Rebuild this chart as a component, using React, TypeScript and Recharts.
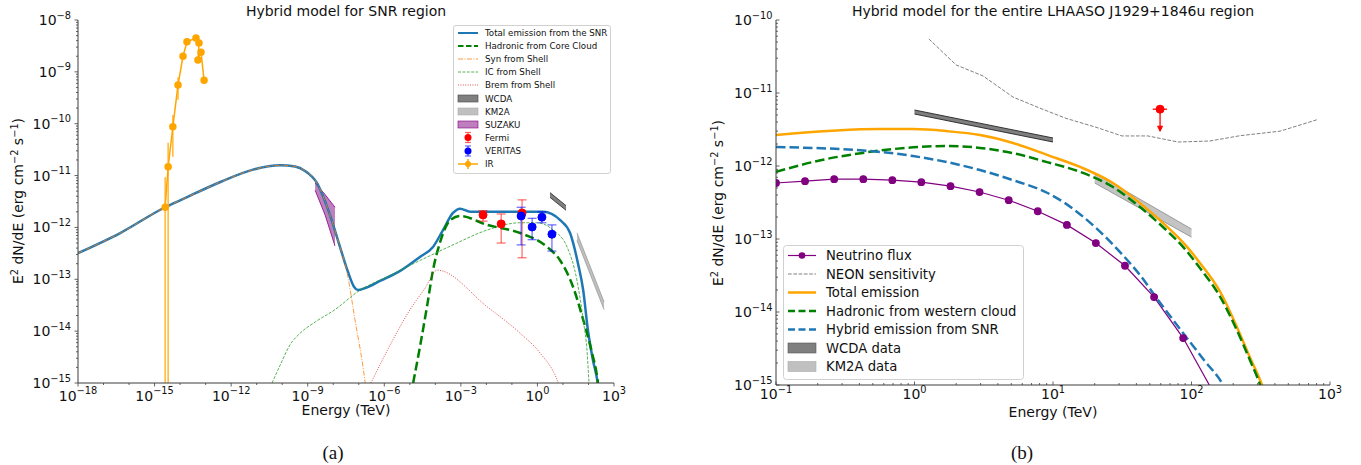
import React from "react";
import { ComposedChart, Line, Scatter, Area, XAxis, YAxis, ErrorBar } from "recharts";

type Pt = [number, number]; // [E (TeV), E^2 dN/dE (erg cm^-2 s^-1)]
type ErrPt = [number, number, number, number]; // [E, F, F low, F high]
type BandPt = [number, number, number]; // [E, F low, F high]

// ---------- panel (a): SNR region ----------
const SNR_TOTAL: Pt[] = [
  [1e-18, 3.2e-13], [4.5e-17, 7.8e-13], [2.6e-15, 2.45e-12], [1.1e-14, 3.4e-12],
  [4e-13, 7.6e-12], [7.2e-12, 1.3e-11], [8.3e-11, 1.58e-11], [3.2e-10, 1.5e-11],
  [7.9e-10, 1.23e-11], [2.3e-9, 7.2e-12], [7.4e-9, 1.74e-12], [1.9e-8, 4e-13],
  [3.8e-8, 1.38e-13], [6.6e-8, 7.1e-14], [9.3e-8, 6.2e-14], [1.8e-7, 6.8e-14],
  [6.8e-7, 9.3e-14], [4.2e-6, 1.45e-13], [2.5e-5, 2.7e-13], [8.1e-5, 4.2e-13],
  [2e-4, 8.9e-13], [4.9e-4, 1.9e-12], [9.3e-4, 2.3e-12], [2.3e-3, 2.0e-12],
  [0.1, 2.0e-12], [1.66, 2.0e-12], [7.8, 1.38e-12], [19, 7.8e-13], [39, 2.0e-13],
  [62, 6.2e-14], [95, 1.05e-14], [150, 2.75e-15], [220, 1.15e-15], [263, 6.3e-16],
];
const CORE_HADRONIC: Pt[] = [
  [1.35e-5, 1e-15], [2.5e-5, 5e-15], [4.7e-5, 2.95e-14], [8.1e-5, 1.5e-13],
  [1.5e-4, 5e-13], [3.8e-4, 1.38e-12], [9.3e-4, 1.66e-12], [1.07e-2, 1.12e-12],
  [0.21, 7.8e-13], [2.4, 4.2e-13], [7.8, 2.3e-13], [25, 7.1e-14], [62, 1.66e-14],
  [138, 3.8e-15], [219, 1.3e-15], [263, 6.3e-16],
];
const SHELL_SYN: Pt[] = [
  [1e-18, 3.2e-13], [4.5e-17, 7.8e-13], [2.6e-15, 2.45e-12], [1.1e-14, 3.4e-12],
  [4e-13, 7.6e-12], [7.2e-12, 1.3e-11], [8.3e-11, 1.58e-11], [3.2e-10, 1.5e-11],
  [7.9e-10, 1.23e-11], [2.3e-9, 7.2e-12], [7.4e-9, 1.74e-12], [1.9e-8, 4e-13],
  [3.2e-8, 1.66e-13], [7.1e-8, 1.66e-14], [1.78e-7, 1e-15], [2.2e-7, 4e-16],
];
const SHELL_IC: Pt[] = [
  [4e-11, 1e-15], [8.3e-11, 2.2e-15], [2e-10, 5.4e-15], [5e-10, 9.1e-15],
  [1.95e-9, 1.5e-14], [1.17e-8, 2.6e-14], [9.3e-8, 5.8e-14], [1.7e-6, 1.2e-13],
  [2.5e-5, 2.3e-13], [4.9e-4, 4.6e-13], [1.07e-2, 8.9e-13], [0.21, 1.23e-12],
  [0.98, 1.23e-12], [4.1, 8.9e-13], [14.5, 4.2e-13], [35, 9.8e-14], [62, 1.66e-14],
  [89, 3.8e-15], [105, 1e-15], [115, 5e-16],
];
const SHELL_BREM: Pt[] = [
  [3e-7, 1e-15], [1.7e-6, 5.4e-15], [1.02e-5, 2.6e-14], [4e-5, 6.8e-14],
  [1.17e-4, 1.5e-13], [1.07e-2, 2.95e-14], [0.21, 9.1e-15], [1.26, 3.8e-15],
  [5.9, 1.15e-15], [7.1, 9e-16],
];
const IR_POINTS: ErrPt[] = [
  [2.6e-15, 2.45e-12, 1e-15, 9.3e-12],
  [3.4e-15, 1.48e-11, 1e-15, 4.3e-11],
  [5.2e-15, 8.7e-11, 2.3e-11, 1.48e-10],
  [8.3e-15, 5.6e-10, 2.9e-10, 7.9e-10],
  [1.3e-14, 2.0e-9, 1.7e-9, 2.3e-9],
  [1.86e-14, 3.8e-9, 3.5e-9, 4.1e-9],
  [4.2e-14, 4.5e-9, 4.2e-9, 4.8e-9],
  [5.5e-14, 3.6e-9, 3.4e-9, 3.8e-9],
  [5e-14, 1.7e-9, 1.6e-9, 1.8e-9],
  [6.6e-14, 2.4e-9, 2.2e-9, 2.6e-9],
  [8.7e-14, 6.9e-10, 6.5e-10, 7.3e-10],
];
const FERMI_POINTS: ErrPt[] = [
  [7.4e-3, 1.74e-12, 1.32e-12, 2.1e-12],
  [0.038, 1.17e-12, 5e-13, 1.82e-12],
  [0.25, 1.9e-12, 2.6e-13, 3.4e-12],
];
const VERITAS_POINTS: ErrPt[] = [
  [0.23, 1.66e-12, 4.6e-13, 2.45e-12],
  [0.62, 1.02e-12, 5.8e-13, 1.5e-12],
  [1.5, 1.58e-12, 1.23e-12, 2.0e-12],
  [3.7, 7.4e-13, 3.5e-13, 1.12e-12],
];
const SUZAKU_BAND: BandPt[] = [
  [1.95e-9, 5.2e-12, 7.2e-12],
  [4.8e-9, 1.74e-12, 4.3e-12],
  [1.17e-8, 4.4e-13, 2.45e-12],
];
const WCDA_BAND_A: BandPt[] = [
  [3.1, 3.8e-12, 4.7e-12],
  [13.2, 2.14e-12, 2.63e-12],
];
const KM2A_BAND_A: BandPt[] = [
  [35.5, 5.6e-13, 7.85e-13],
  [407, 2.6e-14, 3.67e-14],
];

// ---------- panel (b): LHAASO J1929+1846u ----------
const NEUTRINO: Pt[] = [
  [0.1, 5.85e-13], [0.162, 6.2e-13], [0.263, 6.6e-13], [0.427, 6.6e-13],
  [0.692, 6.4e-13], [1.12, 6.0e-13], [1.82, 5.3e-13], [2.95, 4.4e-13],
  [4.79, 3.4e-13], [7.76, 2.4e-13], [12.6, 1.56e-13], [20.4, 8.8e-14],
  [33.1, 4.3e-14], [53.7, 1.6e-14], [87.1, 4.4e-15], [141, 8.5e-16],
];
const NEON_SENS: Pt[] = [
  [1.27, 5.5e-11], [2.0, 2.42e-11], [3.13, 1.71e-11], [5.14, 8.8e-12],
  [8.05, 6.2e-12], [12.4, 4.5e-12], [20.4, 3.4e-12], [31.5, 2.58e-12],
  [48.5, 2.58e-12], [80, 2.13e-12], [136, 2.2e-12], [224, 2.6e-12],
  [436, 3.0e-12], [805, 4.3e-12],
];
const TOTAL_EMISSION: Pt[] = [
  [0.1, 2.66e-12], [0.564, 3.2e-12], [0.975, 3.2e-12], [1.72, 3.0e-12],
  [2.97, 2.66e-12], [5.14, 2.07e-12], [9.06, 1.42e-12], [15.7, 9.7e-13],
  [27.1, 5.85e-13], [42.5, 3.1e-13], [62.2, 1.66e-13], [92.9, 7.8e-14],
  [115, 4.7e-14], [163, 1.82e-14], [213, 6.2e-15], [264, 2.4e-15],
  [323, 1e-15], [355, 6e-16],
];
const WESTERN_HADRONIC: Pt[] = [
  [0.1, 8.3e-13], [0.21, 1.2e-12], [0.41, 1.5e-12], [0.975, 1.8e-12],
  [1.72, 1.88e-12], [2.97, 1.77e-12], [5.14, 1.5e-12], [9.06, 1.13e-12],
  [15.7, 8.3e-13], [27.1, 5.15e-13], [42.5, 2.74e-13], [62.2, 1.46e-13],
  [86.9, 7.8e-14], [115, 4e-14], [163, 1.55e-14], [213, 5.6e-15],
  [264, 2.2e-15], [313, 1e-15], [355, 4.5e-16],
];
const SNR_HYBRID: Pt[] = [
  [0.1, 1.82e-12], [0.564, 1.56e-12], [0.975, 1.37e-12], [1.72, 1.13e-12],
  [2.97, 8.8e-13], [5.14, 6.4e-13], [9.06, 4.3e-13], [12.2, 3.1e-13],
  [20.4, 1.42e-13], [30.5, 6.6e-14], [42.5, 3.2e-14], [57.3, 1.46e-14],
  [86.9, 5.15e-15], [123, 2.2e-15], [169, 1e-15], [186, 7e-16],
];
const WCDA_BAND_B: BandPt[] = [
  [1, 5.15e-12, 5.85e-12],
  [10, 2.13e-12, 2.42e-12],
];
const KM2A_BAND_B: BandPt[] = [
  [20, 5.85e-13, 8e-13],
  [100, 1.06e-13, 1.37e-13],
];
// upper limit: [E, F, E low, E high, arrow tip F]
const UPPER_LIMIT = [59.3, 6.0e-12, 52.5, 66.5, 3.0e-12];

// ---------- axes ----------
const LEFT_X_TICKS = [
  1e-18, 1e-17, 1e-16, 1e-15, 1e-14, 1e-13, 1e-12, 1e-11, 1e-10, 1e-9, 1e-8,
  1e-7, 1e-6, 1e-5, 1e-4, 1e-3, 1e-2, 1e-1, 1, 10, 100, 1000,
];
const LEFT_X_LABELS = [-18, -15, -12, -9, -6, -3, 0, 3];
const LEFT_Y_DECADES = [-15, -8];
const LEFT_Y_LABELS = [-15, -14, -13, -12, -11, -10, -9, -8];
const RIGHT_X_DECADES = [-1, 3];
const RIGHT_X_LABELS = [-1, 0, 1, 2, 3];
const RIGHT_Y_DECADES = [-15, -10];
const RIGHT_Y_LABELS = [-15, -14, -13, -12, -11, -10];

const LEFT_LEGEND = [
  "Total emission from the SNR", "Hadronic from Core Cloud", "Syn from Shell",
  "IC from Shell", "Brem from Shell", "WCDA", "KM2A", "SUZAKU", "Fermi", "VERITAS", "IR",
];
const RIGHT_LEGEND = [
  "Neutrino flux", "NEON sensitivity", "Total emission", "Hadronic from western cloud",
  "Hybrid emission from SNR", "WCDA data", "KM2A data",
];

const FONT = "DejaVu Sans, sans-serif";
const AXIS = "#3c3c3c";
const C_BLUE = "#1f77b4";
const C_GREEN = "#008000";
const C_ORANGE = "#ff7f0e";
const C_IC = "#2ca02c";
const C_BREM = "#d62728";
const C_GOLD = "#ffa500";
const C_PURPLE = "#800080";

// minor ticks at 1..9 x 10^n over a range of decades
function logTicks([lo, hi]: number[]) {
  const out: number[] = [];
  for (let e = lo; e < hi; e++) for (let m = 1; m < 10; m++) out.push(m * Math.pow(10, e));
  out.push(Math.pow(10, hi));
  return out;
}

const line = (pts: Pt[]) => pts.map(([x, y]) => ({ x, y }));
const band = (pts: BandPt[]) => pts.map(([x, lo, hi]) => ({ x, r: [lo, hi] }));
const withErr = (pts: ErrPt[]) => pts.map(([x, y, lo, hi]) => ({ x, y, err: [y - lo, hi - y] }));

const exp10 = (v: number) => {
  const l = Math.log10(v);
  const e = Math.round(l);
  return { e, decade: Math.abs(l - e) < 1e-6 };
};
const supText = (e: number) => (e < 0 ? `\u2212${-e}` : `${e}`);

function xTick(labels: number[], inward: boolean, pad: number) {
  return (p: any) => {
    const { e, decade } = exp10(p.payload.value);
    const show = decade && labels.includes(e);
    const len = show ? 3.5 : 2;
    return (
      <g key={`xt${p.index}`}>
        <line x1={p.x} x2={p.x} y1={p.y} y2={inward ? p.y - len : p.y + len} stroke={AXIS} strokeWidth={0.8} />
        {show && (
          <text x={p.x} y={p.y + pad} textAnchor="middle" fontSize={14} fill="#111" fontFamily={FONT}>
            10<tspan dy={-6.5} fontSize={9.8}>{supText(e)}</tspan>
          </text>
        )}
      </g>
    );
  };
}

function yTick(labels: number[], inward: boolean, pad: number) {
  return (p: any) => {
    const { e, decade } = exp10(p.payload.value);
    const show = decade && labels.includes(e);
    const len = show ? 3.5 : 2;
    return (
      <g key={`yt${p.index}`}>
        <line x1={p.x} x2={inward ? p.x + len : p.x - len} y1={p.y} y2={p.y} stroke={AXIS} strokeWidth={0.8} />
        {show && (
          <text x={p.x - pad} y={p.y + 5} textAnchor="end" fontSize={14} fill="#111" fontFamily={FONT}>
            10<tspan dy={-6.5} fontSize={9.8}>{supText(e)}</tspan>
          </text>
        )}
      </g>
    );
  };
}

const circleShape = (r: number, color: string) => (p: any) => (
  <circle cx={p.cx} cy={p.cy} r={r} fill={color} stroke={color} />
);

function SnrPanel() {
  const xDom = [1e-18, 1e3];
  const yDom = [1e-15, 1e-8];
  return (
    <ComposedChart width={640} height={425} margin={{ top: 20, right: 26, bottom: 0, left: 0 }}>
      <XAxis dataKey="x" type="number" scale="log" domain={xDom} allowDataOverflow ticks={LEFT_X_TICKS}
        interval={0} tickSize={0} tickMargin={0} tickLine={false} height={42}
        axisLine={{ stroke: AXIS, strokeWidth: 1 }} tick={xTick(LEFT_X_LABELS, false, 17.5)} />
      <XAxis xAxisId="top" orientation="top" dataKey="x" type="number" scale="log" domain={xDom}
        allowDataOverflow height={0} tick={false} tickLine={false} axisLine={{ stroke: AXIS, strokeWidth: 1 }} />
      <YAxis dataKey="y" type="number" scale="log" domain={yDom} allowDataOverflow ticks={logTicks(LEFT_Y_DECADES)}
        interval={0} tickSize={0} tickMargin={0} tickLine={false} width={78}
        axisLine={{ stroke: AXIS, strokeWidth: 1 }} tick={yTick(LEFT_Y_LABELS, false, 7)} />
      <YAxis yAxisId="right" orientation="right" dataKey="y" type="number" scale="log" domain={yDom}
        allowDataOverflow width={0} tick={false} tickLine={false} axisLine={{ stroke: AXIS, strokeWidth: 1 }} />

      <Area data={band(SUZAKU_BAND)} dataKey="r" type="linear" fill="#bf7fbf" fillOpacity={1}
        stroke={C_PURPLE} strokeWidth={0.8} dot={false} activeDot={false} isAnimationActive={false} />
      <Line data={line(SNR_TOTAL)} dataKey="y" type="monotone" stroke={C_BLUE} strokeWidth={2.5}
        dot={false} activeDot={false} isAnimationActive={false} />
      <Line data={line(CORE_HADRONIC)} dataKey="y" type="monotone" stroke={C_GREEN} strokeWidth={2.5}
        strokeDasharray="9 4" dot={false} activeDot={false} isAnimationActive={false} />
      <Line data={line(SHELL_SYN)} dataKey="y" type="monotone" stroke={C_ORANGE} strokeWidth={0.8}
        strokeDasharray="5 1.5 1 1.5" dot={false} activeDot={false} isAnimationActive={false} />
      <Line data={line(SHELL_IC)} dataKey="y" type="monotone" stroke={C_IC} strokeWidth={0.8}
        strokeDasharray="3 1.4" dot={false} activeDot={false} isAnimationActive={false} />
      <Line data={line(SHELL_BREM)} dataKey="y" type="monotone" stroke={C_BREM} strokeWidth={0.8}
        strokeDasharray="1 1.4" dot={false} activeDot={false} isAnimationActive={false} />
      <Area data={band(WCDA_BAND_A)} dataKey="r" type="linear" fill="#808080" fillOpacity={1}
        stroke="#222" strokeWidth={0.8} dot={false} activeDot={false} isAnimationActive={false} />
      <Area data={band(KM2A_BAND_A)} dataKey="r" type="linear" fill="#c0c0c0" fillOpacity={1}
        stroke="#9a9a9a" strokeWidth={0.8} dot={false} activeDot={false} isAnimationActive={false} />

      <Line data={withErr(IR_POINTS)} dataKey="y" type="linear" stroke={C_GOLD} strokeWidth={1.5}
        dot={{ r: 3, fill: C_GOLD, stroke: C_GOLD }} activeDot={false} isAnimationActive={false}>
        <ErrorBar dataKey="err" direction="y" width={0} stroke={C_GOLD} strokeWidth={1.5} strokeOpacity={0.8} />
      </Line>
      <Scatter data={withErr(FERMI_POINTS)} dataKey="y" shape={circleShape(4, "red")} isAnimationActive={false}>
        <ErrorBar dataKey="err" direction="y" width={4.5} stroke="red" strokeWidth={1.2} strokeOpacity={0.6} />
      </Scatter>
      <Scatter data={withErr(VERITAS_POINTS)} dataKey="y" shape={circleShape(4, "blue")} isAnimationActive={false}>
        <ErrorBar dataKey="err" direction="y" width={4.5} stroke="blue" strokeWidth={1.2} strokeOpacity={0.6} />
      </Scatter>
    </ComposedChart>
  );
}

function LhaasoPanel() {
  const xDom = [0.1, 1000];
  const yDom = [1e-15, 1e-10];
  const [ulE, ulF, ulLo, ulHi, ulTip] = UPPER_LIMIT;
  return (
    <ComposedChart width={660} height={425} margin={{ top: 20, right: 30, bottom: 0, left: 0 }}>
      <XAxis dataKey="x" type="number" scale="log" domain={xDom} allowDataOverflow ticks={logTicks(RIGHT_X_DECADES)}
        interval={0} tickSize={0} tickMargin={0} tickLine={false} height={40}
        axisLine={{ stroke: AXIS, strokeWidth: 1 }} tick={xTick(RIGHT_X_LABELS, true, 14)} />
      <XAxis xAxisId="top" orientation="top" dataKey="x" type="number" scale="log" domain={xDom}
        allowDataOverflow height={0} tick={false} tickLine={false} axisLine={{ stroke: AXIS, strokeWidth: 1 }} />
      <YAxis dataKey="y" type="number" scale="log" domain={yDom} allowDataOverflow ticks={logTicks(RIGHT_Y_DECADES)}
        interval={0} tickSize={0} tickMargin={0} tickLine={false} width={76}
        axisLine={{ stroke: AXIS, strokeWidth: 1 }} tick={yTick(RIGHT_Y_LABELS, true, 3.5)} />
      <YAxis yAxisId="right" orientation="right" dataKey="y" type="number" scale="log" domain={yDom}
        allowDataOverflow width={0} tick={false} tickLine={false} axisLine={{ stroke: "#8a8a8a", strokeWidth: 1.5 }} />

      <Line data={line(NEUTRINO)} dataKey="y" type="linear" stroke={C_PURPLE} strokeWidth={1.2}
        dot={{ r: 3.3, fill: C_PURPLE, stroke: C_PURPLE }} activeDot={false} isAnimationActive={false} />
      <Line data={line(NEON_SENS)} dataKey="y" type="linear" stroke="#808080" strokeWidth={1}
        strokeDasharray="3.7 1.6" dot={false} activeDot={false} isAnimationActive={false} />
      <Line data={line(TOTAL_EMISSION)} dataKey="y" type="monotone" stroke={C_GOLD} strokeWidth={2.5}
        dot={false} activeDot={false} isAnimationActive={false} />
      <Line data={line(WESTERN_HADRONIC)} dataKey="y" type="monotone" stroke={C_GREEN} strokeWidth={2.5}
        strokeDasharray="9.5 4" dot={false} activeDot={false} isAnimationActive={false} />
      <Line data={line(SNR_HYBRID)} dataKey="y" type="monotone" stroke={C_BLUE} strokeWidth={2.5}
        strokeDasharray="9.5 4" dot={false} activeDot={false} isAnimationActive={false} />
      <Area data={band(WCDA_BAND_B)} dataKey="r" type="linear" fill="#7f7f7f" fillOpacity={1}
        stroke="#222" strokeWidth={0.9} dot={false} activeDot={false} isAnimationActive={false} />
      <Area data={band(KM2A_BAND_B)} dataKey="r" type="linear" fill="#b0b0b0" fillOpacity={0.75}
        stroke="#8a8a8a" strokeWidth={0.8} dot={false} activeDot={false} isAnimationActive={false} />

      <Line data={[{ x: ulE, y: ulF }, { x: ulE, y: ulTip }]} dataKey="y" type="linear" stroke="red"
        strokeWidth={1.3} activeDot={false} isAnimationActive={false}
        dot={(p: any) =>
          p.index === 1 ? (
            <path key="tip" d={`M${p.cx - 2.5},${p.cy - 5} L${p.cx},${p.cy} L${p.cx + 2.5},${p.cy - 5} Z`} fill="red" stroke="red" />
          ) : (
            <g key={`ul${p.index}`} />
          )
        } />
      <Scatter data={[{ x: ulE, y: ulF, xerr: [ulE - ulLo, ulHi - ulE] }]} dataKey="y"
        shape={circleShape(4, "red")} isAnimationActive={false}>
        <ErrorBar dataKey="xerr" direction="x" width={0} stroke="red" strokeWidth={1.3} />
      </Scatter>
    </ComposedChart>
  );
}

function LeftLegend() {
  const rows = [33, 46, 59, 72, 85, 98.5, 111.5, 124.5, 137.5, 151, 164];
  const x0 = 458, x1 = 478, xm = 468;
  const handle = (i: number, y: number) => {
    switch (i) {
      case 0: return <line x1={x0} x2={x1} y1={y} y2={y} stroke={C_BLUE} strokeWidth={2} />;
      case 1: return <line x1={x0} x2={x1} y1={y} y2={y} stroke={C_GREEN} strokeWidth={2} strokeDasharray="5.5 2.5" />;
      case 2: return <line x1={x0} x2={x1} y1={y} y2={y} stroke={C_ORANGE} strokeWidth={0.8} strokeDasharray="5 1.5 1 1.5" />;
      case 3: return <line x1={x0} x2={x1} y1={y} y2={y} stroke={C_IC} strokeWidth={0.8} strokeDasharray="3 1.4" />;
      case 4: return <line x1={x0} x2={x1} y1={y} y2={y} stroke={C_BREM} strokeWidth={0.8} strokeDasharray="1 1.4" />;
      case 5: return <rect x={x0} y={y - 3.5} width={20} height={7} fill="#808080" stroke="#444" strokeWidth={0.6} />;
      case 6: return <rect x={x0} y={y - 3.5} width={20} height={7} fill="#c0c0c0" stroke="#aaa" strokeWidth={0.6} />;
      case 7: return <rect x={x0} y={y - 3.5} width={20} height={7} fill="#bf7fbf" stroke={C_PURPLE} strokeWidth={0.6} />;
      case 8:
      case 9: {
        const c = i === 8 ? "red" : "blue";
        return (
          <g>
            <line x1={xm} x2={xm} y1={y - 5} y2={y + 5} stroke={c} strokeOpacity={0.6} strokeWidth={1.2} />
            <line x1={xm - 3} x2={xm + 3} y1={y - 5} y2={y - 5} stroke={c} strokeOpacity={0.6} strokeWidth={1.2} />
            <line x1={xm - 3} x2={xm + 3} y1={y + 5} y2={y + 5} stroke={c} strokeOpacity={0.6} strokeWidth={1.2} />
            <circle cx={xm} cy={y} r={3.5} fill={c} />
          </g>
        );
      }
      default:
        return (
          <g>
            <line x1={x0} x2={x1} y1={y} y2={y} stroke={C_GOLD} strokeWidth={1.5} />
            <line x1={xm} x2={xm} y1={y - 5} y2={y + 5} stroke={C_GOLD} strokeWidth={1.5} />
            <circle cx={xm} cy={y} r={3} fill={C_GOLD} />
          </g>
        );
    }
  };
  return (
    <g>
      <rect x={453.5} y={25.5} width={157} height={148} rx={2.5} fill="#fff" fillOpacity={0.85} stroke="#d0d0d0" />
      {LEFT_LEGEND.map((label, i) => (
        <g key={label}>
          {handle(i, rows[i])}
          <text x={485} y={rows[i] + 3.2} fontSize={8.7} fill="#111">{label}</text>
        </g>
      ))}
    </g>
  );
}

function RightLegend() {
  const rows = [255.5, 274, 292.5, 311, 329.5, 348, 366.5];
  const x0 = 788, x1 = 816, xm = 802;
  const handle = (i: number, y: number) => {
    switch (i) {
      case 0:
        return (
          <g>
            <line x1={x0} x2={x1} y1={y} y2={y} stroke={C_PURPLE} strokeWidth={1.2} />
            <circle cx={xm} cy={y} r={3.3} fill={C_PURPLE} />
          </g>
        );
      case 1: return <line x1={x0} x2={x1} y1={y} y2={y} stroke="#808080" strokeWidth={1} strokeDasharray="3.7 1.6" />;
      case 2: return <line x1={x0} x2={x1} y1={y} y2={y} stroke={C_GOLD} strokeWidth={2.5} />;
      case 3: return <line x1={x0} x2={x1} y1={y} y2={y} stroke={C_GREEN} strokeWidth={2.5} strokeDasharray="7 3.5" />;
      case 4: return <line x1={x0} x2={x1} y1={y} y2={y} stroke={C_BLUE} strokeWidth={2.5} strokeDasharray="7 3.5" />;
      case 5: return <rect x={x0} y={y - 5} width={28} height={10} fill="#7f7f7f" stroke="#555" strokeWidth={0.6} />;
      default: return <rect x={x0} y={y - 5} width={28} height={10} fill="#c0c0c0" stroke="#aaa" strokeWidth={0.6} />;
    }
  };
  return (
    <g>
      <rect x={783.5} y={245.5} width={240} height={134} rx={3} fill="#fff" fillOpacity={0.85} stroke="#d0d0d0" />
      {RIGHT_LEGEND.map((label, i) => (
        <g key={label}>
          {handle(i, rows[i])}
          <text x={826} y={rows[i] + 4.7} fontSize={13.2} fill="#111">{label}</text>
        </g>
      ))}
    </g>
  );
}

function YLabel({ x, y }: { x: number; y: number }) {
  return (
    <text transform={`translate(${x},${y}) rotate(-90)`} textAnchor="middle" fontSize={14} fill="#111">
      E<tspan dy={-5.5} fontSize={9.8}>2</tspan>
      <tspan dy={5.5}> dN/dE (erg cm</tspan>
      <tspan dy={-5.5} fontSize={9.8}>{"\u22122"}</tspan>
      <tspan dy={5.5}> s</tspan>
      <tspan dy={-5.5} fontSize={9.8}>{"\u22121"}</tspan>
      <tspan dy={5.5}>)</tspan>
    </text>
  );
}

export default function App() {
  return (
    <div style={{ position: "absolute", left: 0, top: 0, width: 1361, height: 465, background: "#fff", overflow: "hidden", fontFamily: FONT }}>
      <div style={{ position: "absolute", left: 0, top: 0 }}>
        <SnrPanel />
      </div>
      <div style={{ position: "absolute", left: 700, top: 0 }}>
        <LhaasoPanel />
      </div>
      <svg width={1361} height={465} style={{ position: "absolute", left: 0, top: 0, pointerEvents: "none" }} fontFamily={FONT}>
        <text x={346} y={15.5} textAnchor="middle" fontSize={14} fill="#111">Hybrid model for SNR region</text>
        <text x={1053} y={15.5} textAnchor="middle" fontSize={14} fill="#111">
          Hybrid model for the entire LHAASO J1929+1846u region
        </text>
        <text x={346} y={415} textAnchor="middle" fontSize={14} fill="#111">Energy (TeV)</text>
        <text x={1053} y={417} textAnchor="middle" fontSize={14} fill="#111">Energy (TeV)</text>
        <YLabel x={23} y={201} />
        <YLabel x={723} y={203} />
        <LeftLegend />
        <RightLegend />
        <text x={333} y={459} textAnchor="middle" fontSize={19} fill="#111" fontFamily="Liberation Serif, DejaVu Serif, serif">(a)</text>
        <text x={1022} y={459} textAnchor="middle" fontSize={19} fill="#111" fontFamily="Liberation Serif, DejaVu Serif, serif">(b)</text>
      </svg>
    </div>
  );
}
